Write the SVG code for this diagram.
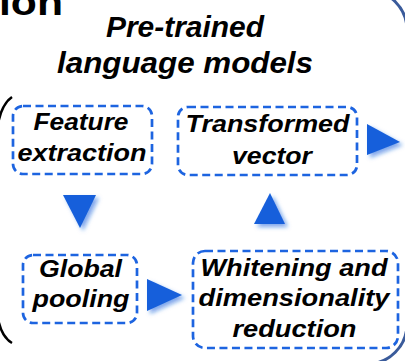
<svg xmlns="http://www.w3.org/2000/svg" width="405" height="361" viewBox="0 0 405 361">
<defs>
<style>
.t{font-family:"Liberation Sans",Arial,sans-serif;font-weight:bold;font-style:italic;fill:#000;text-anchor:middle}
.n{font-size:24px}
.h{font-size:29px}
.box{fill:#fff;stroke:#1d64e0;stroke-width:2.7;stroke-dasharray:8 4.5}
.tri{fill:#155fdb;filter:url(#sh)}
</style>
<filter id="sh" x="-50%" y="-50%" width="200%" height="200%">
<feDropShadow dx="3" dy="3" stdDeviation="2" flood-color="#155fdb" flood-opacity="0.55"/>
</filter>
</defs>
<rect width="405" height="361" fill="#fff"/>
<text x="-1" y="15" font-family="Liberation Sans,Arial,sans-serif" font-weight="bold" font-size="36" textLength="64" lengthAdjust="spacingAndGlyphs">ion</text>
<path d="M360 -10 L367 -10 A40 40 0 0 1 407 30 L407 324 A40 40 0 0 1 367 364" fill="none" stroke="#3a5b9b" stroke-width="3"/>
<path d="M12 97 Q-4 108 -4 150 L-4 295 Q-4 334 12 343" fill="none" stroke="#000" stroke-width="2.5"/>
<g id="title">
<text class="t h" x="185" y="37" textLength="158" lengthAdjust="spacingAndGlyphs">Pre-trained</text>
<text class="t h" x="185" y="73" textLength="256" lengthAdjust="spacingAndGlyphs">language models</text>
</g>
<g id="connectors">
<polygon class="tri" points="63,195 96,195 80,228"/>
<polygon class="tri" points="270,193 285,224 254,224"/>
<polygon class="tri" points="367,124 400,142 367,155"/>
<polygon class="tri" points="147,279 182,295 147,311"/>
</g>
<g id="feature">
<rect class="box" x="13" y="106" width="139" height="68" rx="10"/>
<text class="t n" x="81" y="130" textLength="95" lengthAdjust="spacingAndGlyphs">Feature</text>
<text class="t n" x="82" y="161" textLength="129" lengthAdjust="spacingAndGlyphs">extraction</text>
</g>
<g id="transformed">
<rect class="box" x="178" y="107" width="179" height="68" rx="10"/>
<text class="t n" x="267.5" y="132" textLength="164" lengthAdjust="spacingAndGlyphs">Transformed</text>
<text class="t n" x="272" y="164" textLength="80" lengthAdjust="spacingAndGlyphs">vector</text>
</g>
<g id="global">
<rect class="box" x="23" y="255" width="114" height="68" rx="10"/>
<text class="t n" x="80.5" y="277" textLength="83" lengthAdjust="spacingAndGlyphs">Global</text>
<text class="t n" x="81" y="307" textLength="97" lengthAdjust="spacingAndGlyphs">pooling</text>
</g>
<g id="whitening">
<rect class="box" x="193" y="251" width="205" height="97" rx="12"/>
<text class="t n" x="294" y="276" textLength="187" lengthAdjust="spacingAndGlyphs">Whitening and</text>
<text class="t n" x="294" y="306" textLength="191" lengthAdjust="spacingAndGlyphs">dimensionality</text>
<text class="t n" x="294.5" y="337" textLength="124" lengthAdjust="spacingAndGlyphs">reduction</text>
</g>
</svg>
